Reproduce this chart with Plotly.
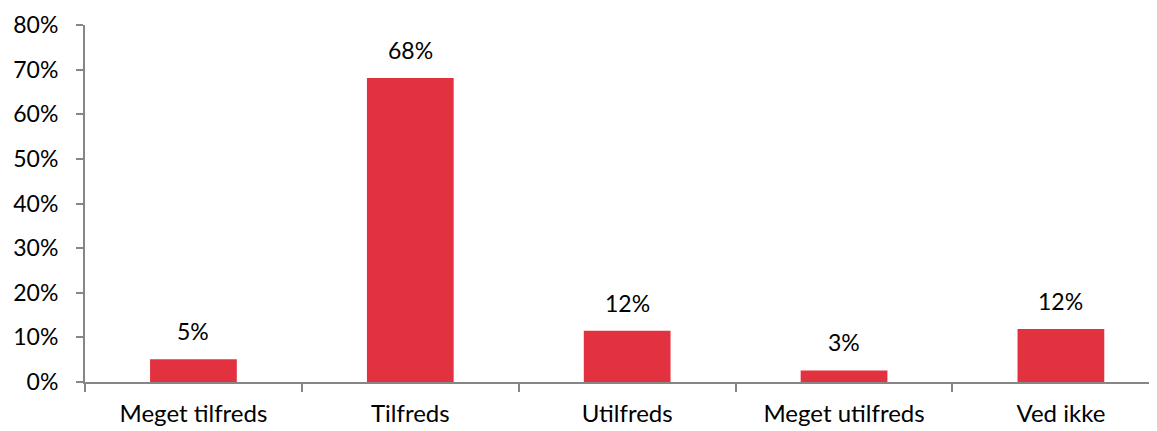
import plotly.graph_objects as go

categories = ["Meget tilfreds", "Tilfreds", "Utilfreds", "Meget utilfreds", "Ved ikke"]
values = [0.051, 0.681, 0.115, 0.026, 0.119]
labels = ["5%", "68%", "12%", "3%", "12%"]
y_ticks = [0, 0.1, 0.2, 0.3, 0.4, 0.5, 0.6, 0.7, 0.8]
y_tick_text = ["0%", "10%", "20%", "30%", "40%", "50%", "60%", "70%", "80%"]

FONT = "Lato"
FS = 23
AXIS_COLOR = "#868686"

fig = go.Figure()
fig.add_trace(go.Bar(
    x=categories, y=values, width=0.4,
    marker=dict(color="#E3323F", line=dict(width=0)),
    hoverinfo="skip",
))

for c, v, t in zip(categories, values, labels):
    fig.add_annotation(x=c, y=v, text=t, showarrow=False, yanchor="bottom",
                       yshift=12, font=dict(family=FONT, size=FS, color="#000000"))

fig.update_layout(
    width=1157, height=431,
    margin=dict(l=77, r=0, t=17, b=57),
    plot_bgcolor="white", paper_bgcolor="white",
    showlegend=False,
    font=dict(family=FONT, size=FS, color="#000000"),
    xaxis=dict(
        type="category", range=[-0.5, 4.48], automargin=False,
        showline=True, linecolor=AXIS_COLOR, linewidth=2,
        ticks="outside", tickson="boundaries", ticklen=8, tickwidth=1.5,
        tickcolor=AXIS_COLOR, showgrid=False, zeroline=False,
        ticklabelstandoff=9,
        tickfont=dict(family=FONT, size=24, color="#000000"),
    ),
    yaxis=dict(
        range=[0, 0.8], tickvals=y_ticks, ticktext=y_tick_text, automargin=False,
        showline=True, linecolor=AXIS_COLOR, linewidth=2,
        ticks="outside", ticklen=7, tickwidth=1.5, tickcolor=AXIS_COLOR,
        showgrid=False, zeroline=False,
        ticklabelstandoff=13,
        tickfont=dict(family=FONT, size=FS, color="#000000"),
    ),
)

fig.write_html("out.html")
